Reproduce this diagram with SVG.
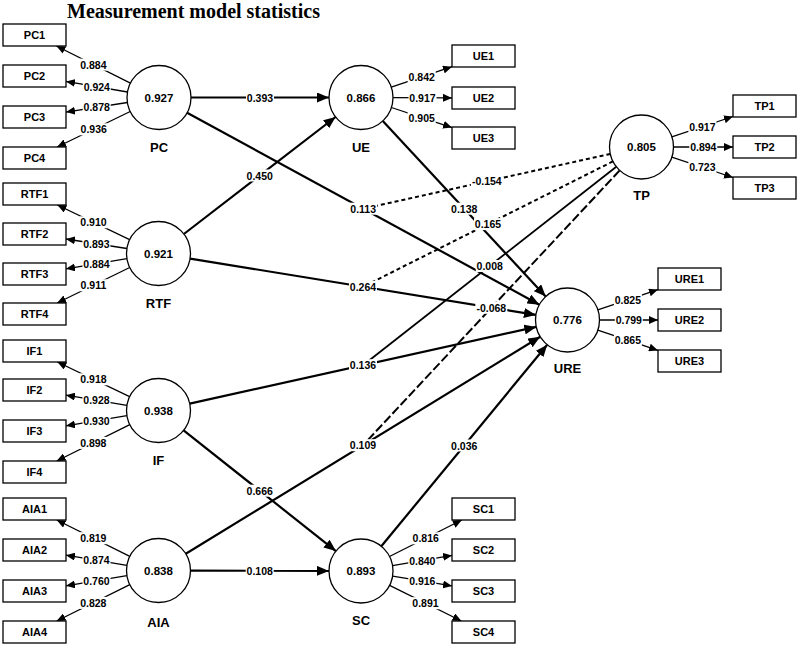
<svg xmlns="http://www.w3.org/2000/svg" width="800" height="647" viewBox="0 0 800 647">
<style>
  .bg{fill:#fff}
  .circ{fill:#fff;stroke:#000;stroke-width:1.3}
  .box{fill:#fff;stroke:#000;stroke-width:1.3}
  .path{stroke:#000;stroke-width:2.2;fill:none}
  .ind{stroke:#000;stroke-width:1.3;fill:none}
  .dash{stroke:#000;stroke-width:2;fill:none;stroke-dasharray:4 3}
  .ldash{stroke:#000;stroke-width:2;fill:none;stroke-dasharray:9 3}
  .solidm{stroke:#000;stroke-width:1.8;fill:none}
  .lb{fill:#fff}
  text{font-family:"Liberation Sans",Arial,sans-serif;font-weight:bold;fill:#000;text-anchor:middle}
  .val{font-size:11.5px}
  .nm{font-size:13px}
  .bt{font-size:11px}
  .lt{font-size:10.5px}
  .title{font-family:"Liberation Serif","Times New Roman",serif;font-size:20px;text-anchor:start}
</style>
<defs>
  <marker id="big" markerUnits="userSpaceOnUse" markerWidth="12" markerHeight="10" refX="12" refY="5" orient="auto">
    <path d="M0,0 L12,5 L0,10 z" fill="#000"/>
  </marker>
  <marker id="small" markerUnits="userSpaceOnUse" markerWidth="9" markerHeight="8" refX="9" refY="4" orient="auto">
    <path d="M0,0 L9,4 L0,8 z" fill="#000"/>
  </marker>
</defs>
<rect class="bg" x="0" y="0" width="800" height="647"/>
<text class="title" x="67" y="18">Measurement model statistics</text>

<g id="connectors">
  <g id="structural-paths">
    <line class="path" x1="191" y1="97.5" x2="329" y2="97.5" marker-end="url(#big)"/>
    <line class="path" x1="183.9" y1="234" x2="335.6" y2="117" marker-end="url(#big)"/>
    <line class="path" x1="187.1" y1="112.8" x2="539.4" y2="304.7" marker-end="url(#big)"/>
    <line class="path" x1="382.8" y1="121" x2="545.7" y2="296.5" marker-end="url(#big)"/>
    <line class="path" x1="190.1" y1="258.6" x2="535.9" y2="314.9" marker-end="url(#big)"/>
    <line class="path" x1="189.7" y1="403.6" x2="536.3" y2="326.9" marker-end="url(#big)"/>
    <line class="path" x1="185.8" y1="553.8" x2="540.2" y2="336.7" marker-end="url(#big)"/>
    <line class="path" x1="381.3" y1="546.3" x2="547.2" y2="344.7" marker-end="url(#big)"/>
    <line class="path" x1="183.6" y1="430.4" x2="335.9" y2="551.1" marker-end="url(#big)"/>
    <line class="path" x1="190.5" y1="570.6" x2="329" y2="570.9" marker-end="url(#big)"/>
  </g>
  <g id="moderator-paths">
    <line class="dash" x1="610.3" y1="153.9" x2="363.25" y2="208.75"/>
    <line class="dash" x1="612.9" y1="161.4" x2="363" y2="286.75"/>
    <line class="solidm" x1="616.3" y1="166.7" x2="363" y2="365.25"/>
    <line class="ldash" x1="619.7" y1="170.4" x2="363" y2="445.25"/>
  </g>
  <g id="indicator-paths">
    <line class="ind" x1="130.4" y1="83.1" x2="56.4" y2="46" marker-end="url(#small)"/>
    <line class="ind" x1="127.5" y1="92" x2="66" y2="81.4" marker-end="url(#small)"/>
    <line class="ind" x1="127.4" y1="102.5" x2="66" y2="112.1" marker-end="url(#small)"/>
    <line class="ind" x1="130.2" y1="111.5" x2="57.1" y2="147" marker-end="url(#small)"/>
    <line class="ind" x1="129.6" y1="239.6" x2="57.4" y2="205" marker-end="url(#small)"/>
    <line class="ind" x1="126.9" y1="248.5" x2="66" y2="239" marker-end="url(#small)"/>
    <line class="ind" x1="126.9" y1="258.7" x2="66" y2="268.8" marker-end="url(#small)"/>
    <line class="ind" x1="129.7" y1="267.5" x2="57.1" y2="303" marker-end="url(#small)"/>
    <line class="ind" x1="129.6" y1="396.6" x2="57.4" y2="362" marker-end="url(#small)"/>
    <line class="ind" x1="126.9" y1="405.3" x2="66" y2="395.2" marker-end="url(#small)"/>
    <line class="ind" x1="126.9" y1="415.7" x2="66" y2="425.8" marker-end="url(#small)"/>
    <line class="ind" x1="129.8" y1="424.7" x2="56.7" y2="461" marker-end="url(#small)"/>
    <line class="ind" x1="129.8" y1="556.3" x2="56.7" y2="520" marker-end="url(#small)"/>
    <line class="ind" x1="126.9" y1="565.3" x2="66" y2="555.2" marker-end="url(#small)"/>
    <line class="ind" x1="126.9" y1="575.7" x2="66" y2="585.8" marker-end="url(#small)"/>
    <line class="ind" x1="129.8" y1="584.7" x2="56.7" y2="621" marker-end="url(#small)"/>
    <line class="ind" x1="391.3" y1="87.2" x2="452" y2="66.7" marker-end="url(#small)"/>
    <line class="ind" x1="393" y1="97.6" x2="452" y2="97.9" marker-end="url(#small)"/>
    <line class="ind" x1="391.4" y1="107.5" x2="452" y2="127.6" marker-end="url(#small)"/>
    <line class="ind" x1="671.8" y1="136.9" x2="733" y2="116.5" marker-end="url(#small)"/>
    <line class="ind" x1="673.5" y1="147" x2="733" y2="147" marker-end="url(#small)"/>
    <line class="ind" x1="671.8" y1="157.1" x2="733" y2="177.5" marker-end="url(#small)"/>
    <line class="ind" x1="597.8" y1="309.8" x2="658" y2="289.6" marker-end="url(#small)"/>
    <line class="ind" x1="599.5" y1="320" x2="658" y2="320" marker-end="url(#small)"/>
    <line class="ind" x1="597.8" y1="330.2" x2="658" y2="350.4" marker-end="url(#small)"/>
    <line class="ind" x1="389.5" y1="556.5" x2="461.8" y2="520" marker-end="url(#small)"/>
    <line class="ind" x1="392.5" y1="565.6" x2="452" y2="555.4" marker-end="url(#small)"/>
    <line class="ind" x1="392.6" y1="576.2" x2="452" y2="585.9" marker-end="url(#small)"/>
    <line class="ind" x1="389.6" y1="585.3" x2="461.4" y2="621" marker-end="url(#small)"/>
  </g>
  <g id="path-labels">
    <rect class="lb" x="246" y="91.5" width="28" height="12"/><text class="lt" x="260" y="101.5">0.393</text>
    <rect class="lb" x="245.7" y="169.5" width="28" height="12"/><text class="lt" x="259.7" y="179.5">0.450</text>
    <rect class="lb" x="349.2" y="202.7" width="28" height="12"/><text class="lt" x="363.2" y="212.7">0.113</text>
    <rect class="lb" x="450.2" y="202.7" width="28" height="12"/><text class="lt" x="464.2" y="212.7">0.138</text>
    <rect class="lb" x="349" y="280.7" width="28" height="12"/><text class="lt" x="363" y="290.7">0.264</text>
    <rect class="lb" x="349" y="359.2" width="28" height="12"/><text class="lt" x="363" y="369.2">0.136</text>
    <rect class="lb" x="349" y="439.2" width="28" height="12"/><text class="lt" x="363" y="449.2">0.109</text>
    <rect class="lb" x="450.2" y="439.5" width="28" height="12"/><text class="lt" x="464.2" y="449.5">0.036</text>
    <rect class="lb" x="245.7" y="484.7" width="28" height="12"/><text class="lt" x="259.7" y="494.7">0.666</text>
    <rect class="lb" x="245.7" y="564.7" width="28" height="12"/><text class="lt" x="259.7" y="574.7">0.108</text>
    <rect class="lb" x="470.8" y="175.3" width="32" height="12"/><text class="lt" x="486.8" y="185.3">-0.154</text>
    <rect class="lb" x="474" y="218.1" width="28" height="12"/><text class="lt" x="488" y="228.1">0.165</text>
    <rect class="lb" x="475.7" y="260" width="28" height="12"/><text class="lt" x="489.7" y="270">0.008</text>
    <rect class="lb" x="475.3" y="301.8" width="32" height="12"/><text class="lt" x="491.3" y="311.8">-0.068</text>
  </g>
  <g id="loading-labels">
    <rect class="lb" x="79.4" y="58.6" width="28" height="12"/><text class="lt" x="93.4" y="68.6">0.884</text>
    <rect class="lb" x="82.8" y="80.7" width="28" height="12"/><text class="lt" x="96.8" y="90.7">0.924</text>
    <rect class="lb" x="82.7" y="101.3" width="28" height="12"/><text class="lt" x="96.7" y="111.3">0.878</text>
    <rect class="lb" x="79.7" y="123.3" width="28" height="12"/><text class="lt" x="93.7" y="133.3">0.936</text>
    <rect class="lb" x="79.5" y="216.3" width="28" height="12"/><text class="lt" x="93.5" y="226.3">0.910</text>
    <rect class="lb" x="82.4" y="237.7" width="28" height="12"/><text class="lt" x="96.4" y="247.7">0.893</text>
    <rect class="lb" x="82.5" y="257.8" width="28" height="12"/><text class="lt" x="96.5" y="267.8">0.884</text>
    <rect class="lb" x="79.4" y="279.3" width="28" height="12"/><text class="lt" x="93.4" y="289.3">0.911</text>
    <rect class="lb" x="79.5" y="373.3" width="28" height="12"/><text class="lt" x="93.5" y="383.3">0.918</text>
    <rect class="lb" x="82.5" y="394.3" width="28" height="12"/><text class="lt" x="96.5" y="404.3">0.928</text>
    <rect class="lb" x="82.5" y="414.8" width="28" height="12"/><text class="lt" x="96.5" y="424.8">0.930</text>
    <rect class="lb" x="79.3" y="436.9" width="28" height="12"/><text class="lt" x="93.3" y="446.9">0.898</text>
    <rect class="lb" x="79.3" y="532.2" width="28" height="12"/><text class="lt" x="93.3" y="542.2">0.819</text>
    <rect class="lb" x="82.5" y="554.3" width="28" height="12"/><text class="lt" x="96.5" y="564.3">0.874</text>
    <rect class="lb" x="82.5" y="574.8" width="28" height="12"/><text class="lt" x="96.5" y="584.8">0.760</text>
    <rect class="lb" x="79.3" y="596.9" width="28" height="12"/><text class="lt" x="93.3" y="606.9">0.828</text>
    <rect class="lb" x="407.7" y="71" width="28" height="12"/><text class="lt" x="421.7" y="81">0.842</text>
    <rect class="lb" x="408.5" y="91.7" width="28" height="12"/><text class="lt" x="422.5" y="101.7">0.917</text>
    <rect class="lb" x="407.7" y="111.6" width="28" height="12"/><text class="lt" x="421.7" y="121.6">0.905</text>
    <rect class="lb" x="688.4" y="120.7" width="28" height="12"/><text class="lt" x="702.4" y="130.7">0.917</text>
    <rect class="lb" x="689.3" y="141" width="28" height="12"/><text class="lt" x="703.3" y="151">0.894</text>
    <rect class="lb" x="688.4" y="161.3" width="28" height="12"/><text class="lt" x="702.4" y="171.3">0.723</text>
    <rect class="lb" x="613.9" y="293.7" width="28" height="12"/><text class="lt" x="627.9" y="303.7">0.825</text>
    <rect class="lb" x="614.8" y="314" width="28" height="12"/><text class="lt" x="628.8" y="324">0.799</text>
    <rect class="lb" x="613.9" y="334.3" width="28" height="12"/><text class="lt" x="627.9" y="344.3">0.865</text>
    <rect class="lb" x="411.7" y="532.3" width="28" height="12"/><text class="lt" x="425.7" y="542.3">0.816</text>
    <rect class="lb" x="408.3" y="554.5" width="28" height="12"/><text class="lt" x="422.3" y="564.5">0.840</text>
    <rect class="lb" x="408.3" y="575" width="28" height="12"/><text class="lt" x="422.3" y="585">0.916</text>
    <rect class="lb" x="411.5" y="597.2" width="28" height="12"/><text class="lt" x="425.5" y="607.2">0.891</text>
  </g>
</g>

<g id="PC"><circle class="circ" cx="159" cy="97.5" r="32"/><text class="val" x="159" y="101.5">0.927</text><text class="nm" x="159" y="151.5">PC</text></g>
<g id="RTF"><circle class="circ" cx="158.5" cy="253.5" r="32"/><text class="val" x="158.5" y="257.5">0.921</text><text class="nm" x="158.5" y="307.5">RTF</text></g>
<g id="IF"><circle class="circ" cx="158.5" cy="410.5" r="32"/><text class="val" x="158.5" y="414.5">0.938</text><text class="nm" x="158.5" y="464.5">IF</text></g>
<g id="AIA"><circle class="circ" cx="158.5" cy="570.5" r="32"/><text class="val" x="158.5" y="574.5">0.838</text><text class="nm" x="158.5" y="626.5">AIA</text></g>
<g id="UE"><circle class="circ" cx="361" cy="97.5" r="32"/><text class="val" x="361" y="101.5">0.866</text><text class="nm" x="361" y="151.5">UE</text></g>
<g id="SC"><circle class="circ" cx="361" cy="571" r="32"/><text class="val" x="361" y="575">0.893</text><text class="nm" x="361" y="624.5">SC</text></g>
<g id="TP"><circle class="circ" cx="641.5" cy="147" r="32"/><text class="val" x="641.5" y="151">0.805</text><text class="nm" x="641.5" y="199.5">TP</text></g>
<g id="URE"><circle class="circ" cx="567.5" cy="320" r="32"/><text class="val" x="567.5" y="324">0.776</text><text class="nm" x="567.5" y="373">URE</text></g>

<g id="PC1"><rect class="box" x="3" y="24" width="63" height="22"/><text class="bt" x="34.5" y="39">PC1</text></g>
<g id="PC2"><rect class="box" x="3" y="65" width="63" height="22"/><text class="bt" x="34.5" y="80">PC2</text></g>
<g id="PC3"><rect class="box" x="3" y="106" width="63" height="22"/><text class="bt" x="34.5" y="121">PC3</text></g>
<g id="PC4"><rect class="box" x="3" y="147" width="63" height="22"/><text class="bt" x="34.5" y="162">PC4</text></g>
<g id="RTF1"><rect class="box" x="3" y="183" width="63" height="22"/><text class="bt" x="34.5" y="198">RTF1</text></g>
<g id="RTF2"><rect class="box" x="3" y="223" width="63" height="22"/><text class="bt" x="34.5" y="238">RTF2</text></g>
<g id="RTF3"><rect class="box" x="3" y="263" width="63" height="22"/><text class="bt" x="34.5" y="278">RTF3</text></g>
<g id="RTF4"><rect class="box" x="3" y="303" width="63" height="22"/><text class="bt" x="34.5" y="318">RTF4</text></g>
<g id="IF1"><rect class="box" x="3" y="340" width="63" height="22"/><text class="bt" x="34.5" y="355">IF1</text></g>
<g id="IF2"><rect class="box" x="3" y="379" width="63" height="22"/><text class="bt" x="34.5" y="394">IF2</text></g>
<g id="IF3"><rect class="box" x="3" y="420" width="63" height="22"/><text class="bt" x="34.5" y="435">IF3</text></g>
<g id="IF4"><rect class="box" x="3" y="461" width="63" height="22"/><text class="bt" x="34.5" y="476">IF4</text></g>
<g id="AIA1"><rect class="box" x="3" y="498" width="63" height="22"/><text class="bt" x="34.5" y="513">AIA1</text></g>
<g id="AIA2"><rect class="box" x="3" y="539" width="63" height="22"/><text class="bt" x="34.5" y="554">AIA2</text></g>
<g id="AIA3"><rect class="box" x="3" y="580" width="63" height="22"/><text class="bt" x="34.5" y="595">AIA3</text></g>
<g id="AIA4"><rect class="box" x="3" y="621" width="63" height="22"/><text class="bt" x="34.5" y="636">AIA4</text></g>
<g id="UE1"><rect class="box" x="452" y="45" width="63" height="22"/><text class="bt" x="483.5" y="60">UE1</text></g>
<g id="UE2"><rect class="box" x="452" y="87" width="63" height="22"/><text class="bt" x="483.5" y="102">UE2</text></g>
<g id="UE3"><rect class="box" x="452" y="127" width="63" height="22"/><text class="bt" x="483.5" y="142">UE3</text></g>
<g id="TP1"><rect class="box" x="733" y="95" width="63" height="22"/><text class="bt" x="764.5" y="110">TP1</text></g>
<g id="TP2"><rect class="box" x="733" y="136" width="63" height="22"/><text class="bt" x="764.5" y="151">TP2</text></g>
<g id="TP3"><rect class="box" x="733" y="177" width="63" height="22"/><text class="bt" x="764.5" y="192">TP3</text></g>
<g id="URE1"><rect class="box" x="658" y="268" width="63" height="22"/><text class="bt" x="689.5" y="283">URE1</text></g>
<g id="URE2"><rect class="box" x="658" y="309" width="63" height="22"/><text class="bt" x="689.5" y="324">URE2</text></g>
<g id="URE3"><rect class="box" x="658" y="350" width="63" height="22"/><text class="bt" x="689.5" y="365">URE3</text></g>
<g id="SC1"><rect class="box" x="452" y="498" width="63" height="22"/><text class="bt" x="483.5" y="513">SC1</text></g>
<g id="SC2"><rect class="box" x="452" y="539" width="63" height="22"/><text class="bt" x="483.5" y="554">SC2</text></g>
<g id="SC3"><rect class="box" x="452" y="580" width="63" height="22"/><text class="bt" x="483.5" y="595">SC3</text></g>
<g id="SC4"><rect class="box" x="452" y="621" width="63" height="22"/><text class="bt" x="483.5" y="636">SC4</text></g>
</svg>
